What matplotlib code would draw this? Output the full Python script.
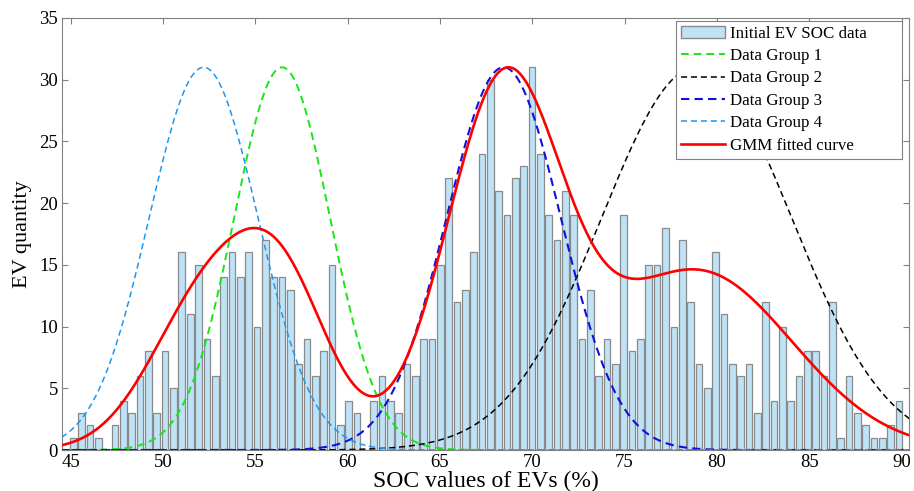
import numpy as np
import matplotlib
matplotlib.use("Agg")
import matplotlib.pyplot as plt
from matplotlib.patches import Patch
from matplotlib.lines import Line2D

# ---------- Data ----------
# histogram of initial EV SOC values (100 bins)
bin_first, bin_last = 45.15, 89.86
counts = [1, 3, 2, 1, 0, 2, 4, 3, 6, 8,
          3, 8, 5, 16, 11, 15, 9, 6, 14, 16,
          14, 16, 10, 17, 14, 14, 13, 7, 9, 6,
          8, 15, 2, 4, 3, 0, 4, 6, 4, 3,
          7, 6, 9, 9, 15, 22, 12, 13, 16, 24,
          30, 21, 19, 22, 23, 31, 24, 19, 17, 21,
          19, 9, 13, 6, 9, 7, 19, 8, 9, 15,
          15, 18, 10, 17, 12, 7, 5, 16, 11, 7,
          6, 7, 3, 12, 4, 10, 4, 6, 8, 8,
          6, 12, 1, 6, 3, 2, 1, 1, 2, 4]

# GMM components (Data Group 1..4): means, std devs, weights in fitted curve
group_names = ["Data Group 1", "Data Group 2", "Data Group 3", "Data Group 4"]
group_means = [56.45, 78.9, 68.45, 52.2]
group_sigmas = [2.6, 5.15, 3.1, 2.95]
group_weights = [12.4, 14.5, 29.0, 11.5]
group_colors = ["#19E619", "#000000", "#1010E0", "#1E96F0"]
group_lw = [1.4, 1.1, 1.5, 1.1]

# ---------- Figure ----------
plt.rcParams['font.family'] = ['Liberation Serif', 'DejaVu Serif']

fig = plt.figure(figsize=(9.14, 4.91), dpi=100)
ax = fig.add_axes([0.068, 0.0835, 0.9265, 0.88])

counts = np.array(counts)
centers = np.linspace(bin_first, bin_last, len(counts))
step = centers[1] - centers[0]
ax.bar(centers, counts, width=0.8 * step, color="#BEE3F7",
       edgecolor="#8A8A8A", linewidth=0.9, zorder=2)

x = np.linspace(44.5, 90.5, 600)
peak = counts.max()
gmm = np.zeros_like(x)
for mu, s, w, c, lw in zip(group_means, group_sigmas, group_weights,
                           group_colors, group_lw):
    g = np.exp(-(x - mu) ** 2 / (2 * s ** 2))
    gmm += w * g
    ax.plot(x, peak * g, ls=(0, (4, 2.5)), color=c, lw=lw, zorder=3)
gmm *= peak / gmm.max()
ax.plot(x, gmm, color="#FF0000", lw=1.9, zorder=4)

ax.set_xlim(44.54, 90.4)
ax.set_ylim(0, 35)
ax.set_xticks(np.arange(45, 91, 5))
ax.set_yticks(np.arange(0, 36, 5))
ax.set_xlabel("SOC values of EVs (%)", fontsize=17, labelpad=0)
ax.set_ylabel("EV quantity", fontsize=16, labelpad=5)
ax.tick_params(direction="in", top=True, right=True, labelsize=13.5,
               length=4, color="#808080", pad=3)
for sp in ax.spines.values():
    sp.set_color("#808080")
    sp.set_linewidth(0.8)

# trailing spaces leave the empty strip on the right of the legend box
handles = [Patch(facecolor="#BEE3F7", edgecolor="#8A8A8A",
                 label="Initial EV SOC data" + " " * 7)]
for name, c, lw in zip(group_names, group_colors, group_lw):
    handles.append(Line2D([], [], color=c, lw=lw, ls=(0, (4, 2.5)), label=name))
handles.append(Line2D([], [], color="#FF0000", lw=1.9, label="GMM fitted curve"))
leg = ax.legend(handles=handles, loc="upper right", bbox_to_anchor=(0.992, 0.994),
                borderaxespad=0, fontsize=12.2, handlelength=2.6, handletextpad=0.3,
                labelspacing=0.38, borderpad=0.3, fancybox=False, framealpha=1)
leg.get_frame().set_edgecolor("#808080")
leg.get_frame().set_linewidth(0.8)

fig.savefig("out.png", dpi=100)
